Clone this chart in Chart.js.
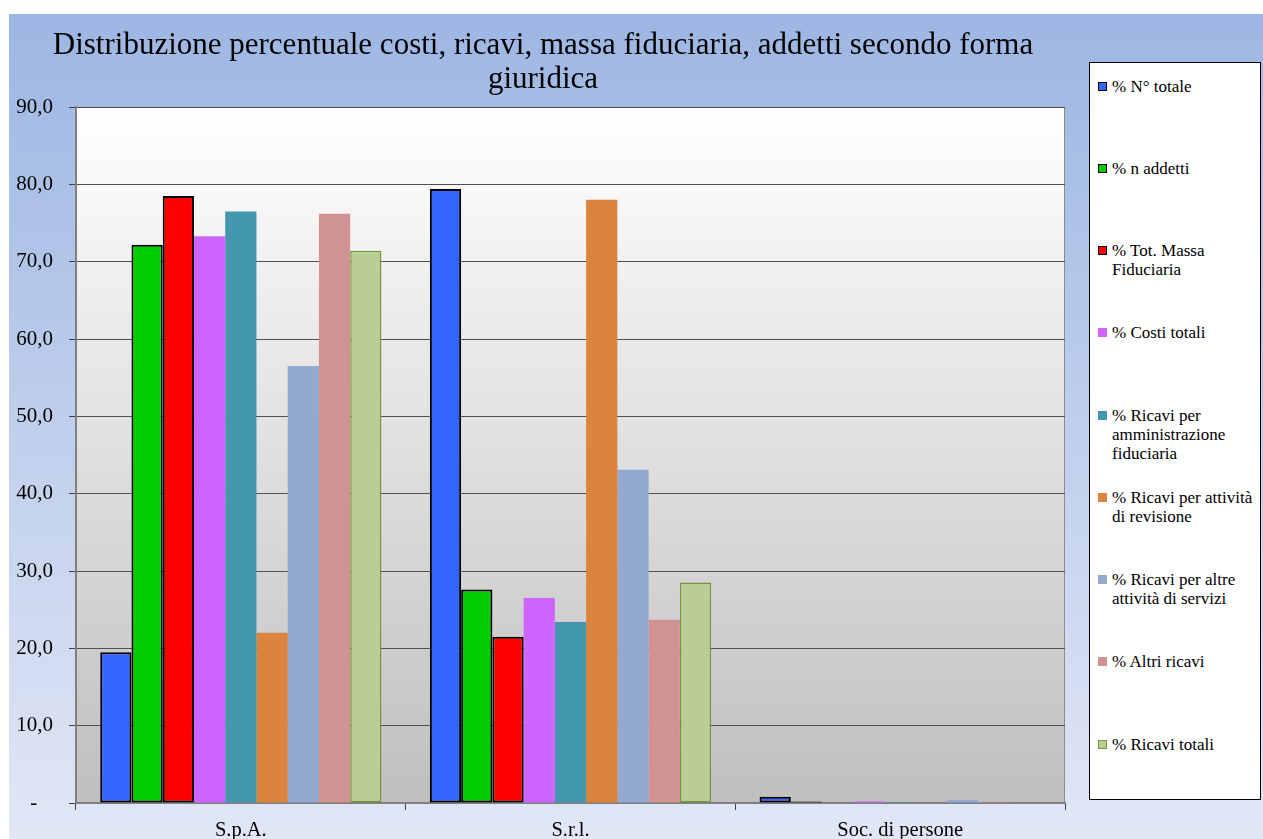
<!DOCTYPE html>
<html lang="it">
<head>
    <meta charset="UTF-8">
    <title>Distribuzione percentuale per forma giuridica</title>
    <style>
        body {
            margin: 0;
            padding: 0;
            background: #fff;
            font-family: "Liberation Serif", "Times New Roman", serif;
        }

        .wrap {
            position: relative;
            width: 1263px;
            height: 839px;
        }

        #grafico {
            position: absolute;
            left: 0;
            top: 0;
        }

        .titolo {
            position: absolute;
            left: 9px;
            top: 27px;
            width: 1068px;
            text-align: center;
            font-size: 31px;
            line-height: 34px;
            color: #000;
        }

        .legenda {
            position: absolute;
            left: 1089px;
            top: 62px;
            width: 172px;
            height: 738px;
            background: #fff;
            border: 1px solid #000;
            box-sizing: border-box;
        }

        .voce {
            position: absolute;
            left: 22px;
            width: 146px;
            font-size: 17px;
            line-height: 19px;
            color: #000;
        }

        .voce .quad {
            position: absolute;
            left: -14px;
            top: 5px;
            width: 9px;
            height: 9px;
            box-sizing: border-box;
        }
    </style>
</head>
<body>
    <div class="wrap">
        <canvas id="grafico" width="1263" height="839"></canvas>
        <div class="titolo">Distribuzione percentuale costi, ricavi, massa fiduciaria, addetti secondo forma<br>giuridica</div>
        <div class="legenda" id="legenda"></div>
    </div>

    <script src="https://cdn.jsdelivr.net/npm/chart.js"></script>
    <script>
        const categorie = ['S.p.A.', 'S.r.l.', 'Soc. di persone'];

        const nomiSerie = [
            '% N° totale',
            '% n addetti',
            '% Tot. Massa Fiduciaria',
            '% Costi totali',
            '% Ricavi per amministrazione fiduciaria',
            '% Ricavi per attività di revisione',
            '% Ricavi per altre attività di servizi',
            '% Altri ricavi',
            '% Ricavi totali'
        ];

        // valori percentuali per S.p.A., S.r.l., Soc. di persone
        const nTotale = [19.5, 79.4, 0.8];
        const nAddetti = [72.2, 27.6, 0.2];
        const massaFiduciaria = [78.5, 21.5, 0.0];
        const costiTotali = [73.3, 26.5, 0.2];
        const ricaviAmmFiduciaria = [76.5, 23.4, 0.1];
        const ricaviRevisione = [22.0, 78.0, 0.0];
        const ricaviAltreAttivita = [56.5, 43.1, 0.4];
        const altriRicavi = [76.2, 23.7, 0.1];
        const ricaviTotali = [71.4, 28.5, 0.1];

        const tickY = [0, 10, 20, 30, 40, 50, 60, 70, 80, 90];

        const valori = [nTotale, nAddetti, massaFiduciaria, costiTotali, ricaviAmmFiduciaria,
            ricaviRevisione, ricaviAltreAttivita, altriRicavi, ricaviTotali];
        const colori = ['#3366FF', '#00CC00', '#FF0000', '#CC66FF', '#4398B0',
            '#DB843D', '#93A9CF', '#D19392', '#B9CD96'];
        const bordi = ['#000', '#000', '#000', null, null, null, null, null, '#77933C'];
        const spessori = [2, 2, 2, 0, 0, 0, 0, 0, 1.5];

        const datasets = nomiSerie.map((nome, i) => ({
            label: nome,
            data: valori[i],
            backgroundColor: colori[i],
            borderColor: bordi[i] || colori[i],
            borderWidth: spessori[i],
            borderSkipped: false
        }));

        // sfondi: cornice azzurra sfumata e area del grafico da bianco a grigio
        const sfondo = {
            id: 'sfondo',
            beforeDraw(chart) {
                const ctx = chart.ctx;
                const a = chart.chartArea;
                ctx.save();
                ctx.fillStyle = '#fff';
                ctx.fillRect(0, 0, chart.width, chart.height);
                let g = ctx.createLinearGradient(0, 14, 0, chart.height);
                g.addColorStop(0, '#9DB6E3');
                g.addColorStop(1, '#E1E7F5');
                ctx.fillStyle = g;
                ctx.fillRect(9, 14, chart.width - 9, chart.height - 14);
                g = ctx.createLinearGradient(0, a.top, 0, a.bottom);
                g.addColorStop(0, '#FFFFFF');
                g.addColorStop(1, '#BFBFBF');
                ctx.fillStyle = g;
                ctx.fillRect(a.left, a.top, a.right - a.left, a.bottom - a.top);
                ctx.strokeStyle = '#8C8C8C';
                ctx.lineWidth = 1;
                ctx.strokeRect(a.left + 0.5, a.top + 0.5, a.right - a.left - 1, a.bottom - a.top - 1);
                ctx.restore();
            }
        };

        new Chart(document.getElementById('grafico'), {
            type: 'bar',
            data: { labels: categorie, datasets: datasets },
            options: {
                responsive: false,
                animation: false,
                layout: { padding: { left: 9, right: 198, top: 107, bottom: 0 } },
                datasets: {
                    bar: { categoryPercentage: 0.853, barPercentage: 1.0 }
                },
                plugins: {
                    legend: { display: false },
                    title: { display: false },
                    tooltip: { enabled: false }
                },
                scales: {
                    x: {
                        grid: {
                            offset: true,
                            drawOnChartArea: false,
                            drawTicks: true,
                            tickLength: 7,
                            tickColor: '#404040',
                            tickWidth: 1
                        },
                        border: { color: '#7F7F7F', width: 2 },
                        ticks: {
                            color: '#000',
                            padding: 8,
                            maxRotation: 0,
                            font: { family: 'Liberation Serif', size: 20.5 }
                        },
                        afterFit(scale) { scale.height = 36; }
                    },
                    y: {
                        min: 0,
                        max: 90,
                        afterBuildTicks(scale) {
                            scale.ticks = tickY.map(v => ({ value: v }));
                        },
                        grid: {
                            color: '#505050',
                            lineWidth: 1,
                            drawTicks: true,
                            tickLength: 7,
                            tickColor: '#404040'
                        },
                        border: { color: '#7F7F7F', width: 2 },
                        ticks: {
                            color: '#000',
                            padding: 16,
                            font: { family: 'Liberation Serif', size: 21 },
                            callback: v => v === 0 ? '-   ' : v.toFixed(1).replace('.', ',')
                        },
                        afterFit(scale) { scale.width = 67; }
                    }
                }
            },
            plugins: [sfondo]
        });

        // legenda a destra
        const legenda = document.getElementById('legenda');
        nomiSerie.forEach((nome, i) => {
            const voce = document.createElement('div');
            voce.className = 'voce';
            voce.style.top = (13.5 + 82.25 * i) + 'px';
            const quad = document.createElement('span');
            quad.className = 'quad';
            quad.style.background = colori[i];
            if (bordi[i]) quad.style.border = '1.5px solid ' + bordi[i];
            voce.appendChild(quad);
            voce.appendChild(document.createTextNode(nome));
            legenda.appendChild(voce);
        });
    </script>
</body>
</html>
